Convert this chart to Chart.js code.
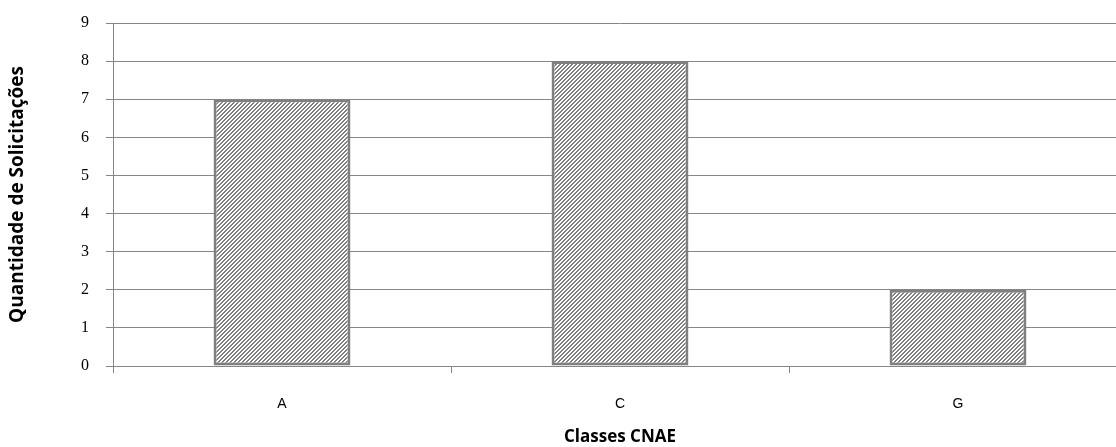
<!DOCTYPE html>
<html>
<head>
<meta charset="utf-8">
<script src="https://cdn.jsdelivr.net/npm/chart.js@4/dist/chart.umd.min.js"></script>
<style>
  html, body { margin: 0; padding: 0; background: #fff; overflow: hidden; }
  #wrap { width: 1116px; height: 447px; overflow: hidden; }
  canvas { display: block; }
</style>
</head>
<body>
<div id="wrap"><canvas id="c" width="1130" height="447"></canvas></div>
<script>
const categories = ['A', 'C', 'G'];
const solicitacoes = [7, 8, 2];
const yTicks = [0, 1, 2, 3, 4, 5, 6, 7, 8, 9];

const GREY = '#808080';
const GRID = '#868686';

// Diagonal hatch fill for the bars
function hatch() {
  const t = document.createElement('canvas');
  t.width = 4; t.height = 4;
  const g = t.getContext('2d');
  g.fillStyle = '#ffffff';
  g.fillRect(0, 0, 4, 4);
  g.fillStyle = GREY;
  for (let i = 0; i < 4; i++) {
    const y = 3 - i;
    g.fillRect(i, y, 1, 1);
    g.fillRect((i + 1) % 4, y, 1, 1);
  }
  return g.createPattern(t, 'repeat');
}

const ctx = document.getElementById('c').getContext('2d');
new Chart(ctx, {
  type: 'bar',
  data: {
    labels: categories,
    datasets: [{
      data: solicitacoes,
      backgroundColor: hatch(),
      borderColor: GREY,
      borderWidth: 3,
      borderSkipped: false,
      categoryPercentage: 1,
      barPercentage: 0.405
    }]
  },
  options: {
    responsive: false,
    animation: false,
    layout: { padding: { top: 23, right: 3, left: 0, bottom: 0 } },
    plugins: { legend: { display: false }, tooltip: { enabled: false } },
    scales: {
      x: {
        offset: true,
        afterFit: s => { s.height = 81; s.paddingLeft = 0; s.paddingRight = 0; },
        grid: { offset: true, drawOnChartArea: false, drawTicks: true, tickLength: 7, color: GRID, lineWidth: 1 },
        border: { display: true, color: GRID, width: 1 },
        ticks: { color: '#000', font: { family: 'Liberation Sans', size: 14 }, padding: 23 },
        title: {
          display: true, text: 'Classes CNAE', color: '#000',
          font: { family: 'Open Sans', size: 17, weight: 'bold' },
          padding: { top: 0, bottom: 0 }
        }
      },
      y: {
        min: 0, max: 9,
        afterFit: s => { s.width = 113; s.paddingTop = 0; s.paddingBottom = 0; },
        afterBuildTicks: s => { s.ticks = yTicks.map(v => ({ value: v })); },
        grid: { color: GRID, lineWidth: 1, tickLength: 7, drawTicks: true },
        border: { display: true, color: GRID, width: 1 },
        ticks: { color: '#000', font: { family: 'Liberation Serif', size: 16 }, padding: 17 },
        title: {
          display: true, text: 'Quantidade de Solicitações', color: '#000',
          font: { family: 'Open Sans', size: 19, weight: 'bold' },
          padding: { top: 6, bottom: 0 }
        }
      }
    }
  }
});
</script>
</body>
</html>
